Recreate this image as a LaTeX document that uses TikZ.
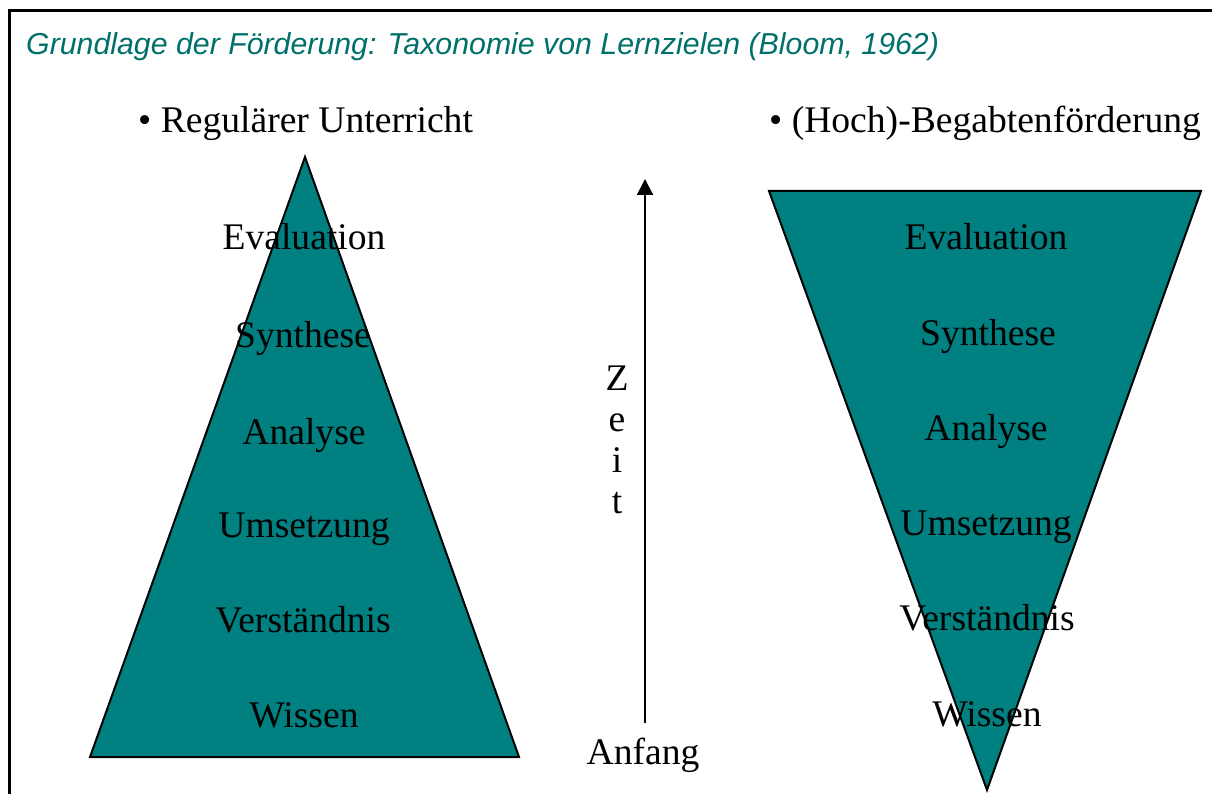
\documentclass[tikz,border=0pt]{standalone}
\usepackage{fontspec}
\setmainfont{Liberation Serif}
\newfontfamily\titlefont{Liberation Sans}
\usetikzlibrary{arrows.meta}
\definecolor{tealfill}{RGB}{0,128,128}
\definecolor{titlecol}{RGB}{0,112,106}
\tikzset{
  lbl/.style={inner sep=0pt, anchor=base, font=\fontsize{37.6}{44}\selectfont},
  head/.style={inner sep=0pt, anchor=base west, font=\fontsize{37.6}{44}\selectfont},
  pyr/.style={draw=black, line width=2pt, fill=tealfill, line join=miter},
  frame/.style={draw=black, line width=3pt},
  timearrow/.style={draw=black, line width=2pt, -{Triangle[width=16pt,length=16pt]}}
}
\begin{document}
\begin{tikzpicture}[x=1pt,y=-1pt]
\useasboundingbox (0,0) rectangle (1212,794);
% frame (partly outside)
\draw[frame] (9,800) -- (9,11) -- (1220,11);
% title
\node[inner sep=0pt, anchor=base west, text=titlecol, font=\titlefont\itshape\fontsize{30.3}{36}\selectfont] (title) at (26,55) {Grundlage der Förderung: Taxonomie von Lernzielen (Bloom, 1962)};
% headings
\node[head] (hleft) at (138,133) {• Regulärer Unterricht};
\node[head] (hright) at (769,133) {• (Hoch)-Begabtenförderung};
% pyramids
\coordinate (lA) at (305,157);
\coordinate (lB) at (90,757);
\coordinate (lC) at (519,757);
\path[pyr] (lA) -- (lC) -- (lB) -- cycle;
\coordinate (rA) at (769,191);
\coordinate (rB) at (1201,191);
\coordinate (rC) at (987,790);
\path[pyr] (rA) -- (rB) -- (rC) -- cycle;
% left labels
\node[lbl] (l1) at (304,250) {Evaluation};
\node[lbl] (l2) at (303,347) {Synthese};
\node[lbl] (l3) at (304,444) {Analyse};
\node[lbl] (l4) at (304,537) {Umsetzung};
\node[lbl] (l5) at (303,632) {Verständnis};
\node[lbl] (l6) at (304,727) {Wissen};
% right labels
\node[lbl] (r1) at (986,250) {Evaluation};
\node[lbl] (r2) at (988,345) {Synthese};
\node[lbl] (r3) at (986,440) {Analyse};
\node[lbl] (r4) at (986,535) {Umsetzung};
\node[lbl] (r5) at (987,630) {Verständnis};
\node[lbl] (r6) at (987,726) {Wissen};
% time axis
\node[lbl] (z1) at (617,390) {Z};
\node[lbl] (z2) at (617,431) {e};
\node[lbl] (z3) at (617,472) {i};
\node[lbl] (z4) at (617,513) {t};
\node[lbl] (anfang) at (643,764) {Anfang};
\coordinate (tstart) at (645,723);
\coordinate (tend) at (645,179);
\draw[timearrow] (tstart) -- (tend);
\end{tikzpicture}
\end{document}
